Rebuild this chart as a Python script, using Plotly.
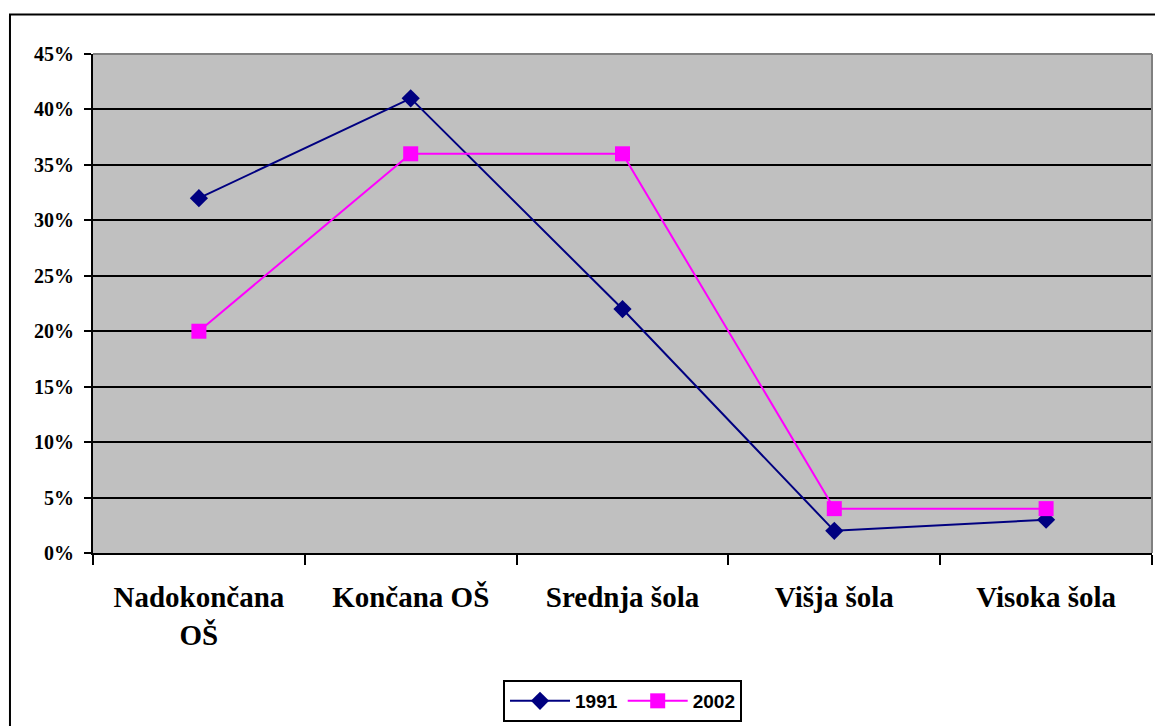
import plotly.graph_objects as go

categories = ["Nadokončana<br>OŠ", "Končana OŠ", "Srednja šola", "Višja šola", "Visoka šola"]
y1991 = [0.32, 0.41, 0.22, 0.02, 0.03]
y2002 = [0.20, 0.36, 0.36, 0.04, 0.04]

fig = go.Figure()
fig.add_trace(go.Scatter(x=categories, y=y1991, mode="lines+markers", name="1991",
                         line=dict(color="#000080", width=2),
                         marker=dict(symbol="diamond", size=14, color="#000080")))
fig.add_trace(go.Scatter(x=categories, y=y2002, mode="lines+markers", name="2002",
                         line=dict(color="#FF00FF", width=2),
                         marker=dict(symbol="square", size=15, color="#FF00FF")))

fig.update_layout(
    width=1155, height=718,
    margin=dict(l=85, r=11, t=46, b=173),
    paper_bgcolor="white", plot_bgcolor="#C0C0C0",
    showlegend=True,
    legend=dict(orientation="h", x=0.5, xanchor="center", yref="container", y=0.0641, yanchor="top",
                bordercolor="black", borderwidth=2, bgcolor="white",
                font=dict(family="Liberation Sans, Arial", size=19, color="black", weight="bold"),
                itemwidth=60),
    xaxis=dict(type="category", range=[-0.5, 4.5], tickson="boundaries", ticks="outside",
               ticklen=10, tickwidth=2, tickcolor="black", showgrid=False,
               showline=True, linecolor="black", linewidth=2, automargin=False,
               tickfont=dict(family="Liberation Serif, Times New Roman", size=29, color="black", weight="bold"),
               ticklabelstandoff=17),
    yaxis=dict(range=[0, 0.45], dtick=0.05, tickformat=".0%", ticks="outside", ticklen=7,
               tickwidth=2, tickcolor="black", showgrid=True, gridcolor="black", gridwidth=2,
               showline=True, linecolor="black", linewidth=2, zeroline=False, automargin=False,
               tickfont=dict(family="Liberation Serif, Times New Roman", size=20, color="black", weight="bold"),
               ticklabelstandoff=6),
    shapes=[
        dict(type="line", xref="paper", yref="paper", x0=0, x1=1, y0=1, y1=1,
             line=dict(color="#808080", width=2)),
        dict(type="line", xref="paper", yref="paper", x0=1, x1=1, y0=0, y1=1,
             line=dict(color="#808080", width=2)),
        dict(type="rect", xref="paper", yref="paper", x0=-0.0784, x1=1.05, y0=-0.5, y1=1.0792,
             line=dict(color="black", width=2), fillcolor="rgba(0,0,0,0)", layer="below"),
    ],
)

fig.write_html("out.html")
